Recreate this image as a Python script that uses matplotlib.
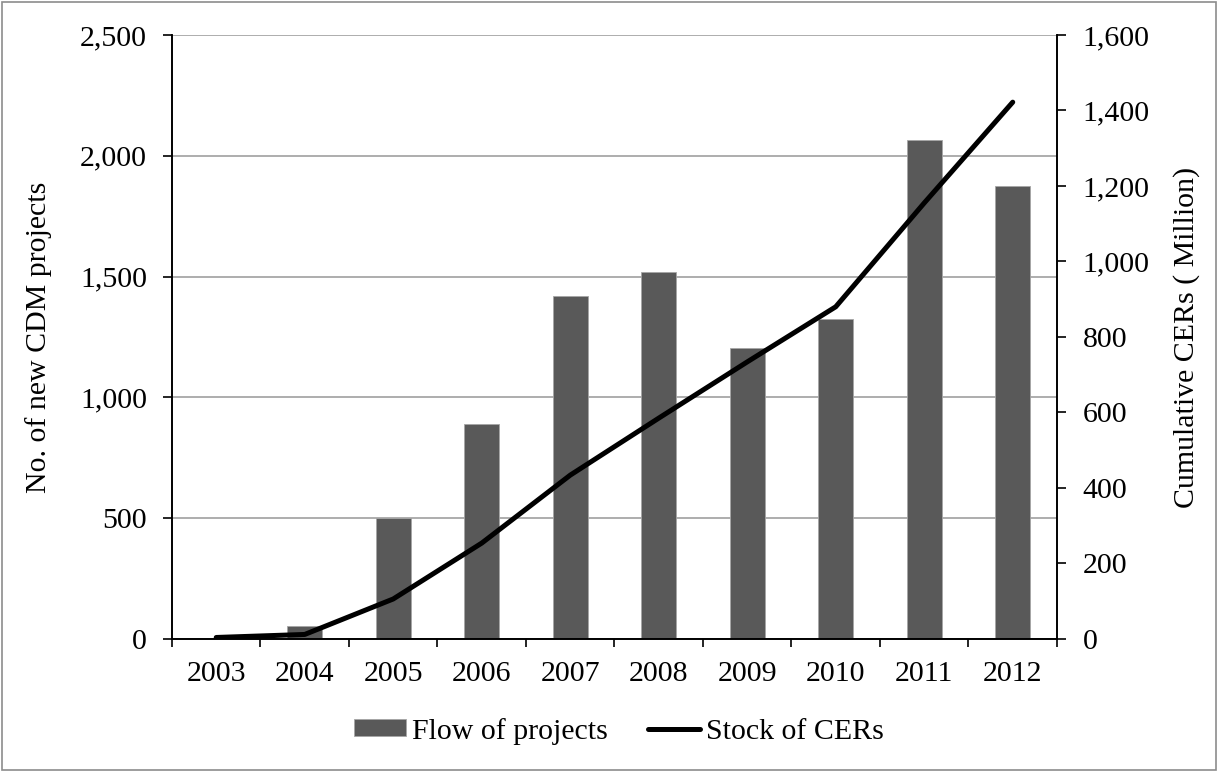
import matplotlib
matplotlib.use('Agg')
import matplotlib.pyplot as plt
from matplotlib.patches import Rectangle
from matplotlib.ticker import FuncFormatter, MultipleLocator
import numpy as np

plt.rcParams['font.family'] = ['Liberation Serif', 'DejaVu Serif']

# Data
years = ['2003', '2004', '2005', '2006', '2007', '2008', '2009', '2010', '2011', '2012']
projects = [0, 54, 501, 890, 1420, 1519, 1206, 1325, 2065, 1876]
cers = [4, 12, 106, 254, 434, 585, 734, 880, 1155, 1422]

fs = 21.5
fig = plt.figure(figsize=(12.18, 7.72), dpi=100)
ax = fig.add_axes([0.1412, 0.1723, 0.7266, 0.7824])
x = np.arange(len(years))

ax.bar(x, projects, width=0.395, color='#595959', edgecolor='#a6a6a6', linewidth=0.6,
       label='Flow of projects', zorder=2)
ax.set_ylim(0, 2500)
ax.set_xlim(-0.5, len(years) - 0.5)
ax.yaxis.set_major_locator(MultipleLocator(500))
ax.yaxis.set_major_formatter(FuncFormatter(lambda v, p: f'{v:,.0f}'))
ax.grid(axis='y', color='#a0a0a0', linewidth=1.2, zorder=0)
ax.set_axisbelow(True)
ax.set_xticks(x)
ax.set_xticklabels(years)
ax.set_xticks(np.arange(-0.5, len(years)), minor=True)
ax.tick_params(axis='x', which='major', length=0, pad=16, labelsize=fs)
ax.tick_params(axis='x', which='minor', length=6, width=1.2, direction='out')
ax.tick_params(axis='y', length=6.5, width=1.2, direction='out', labelsize=fs, pad=11.5)
ax.set_ylabel('No. of new CDM projects', fontsize=fs, labelpad=20)
ax.spines['top'].set_visible(False)

ax2 = ax.twinx()
ax2.plot(x, cers, color='black', linewidth=3.6, solid_capstyle='round',
         label='Stock of CERs', zorder=3)
ax2.set_ylim(0, 1600)
ax2.yaxis.set_major_locator(MultipleLocator(200))
ax2.yaxis.set_major_formatter(FuncFormatter(lambda v, p: f'{v:,.0f}'))
ax2.tick_params(axis='y', length=6.5, width=1.2, direction='out', labelsize=fs, pad=12)
ax2.set_ylabel('Cumulative CERs ( Million)', fontsize=fs, labelpad=17)
ax2.spines['top'].set_visible(False)
for a in (ax, ax2):
    for s in a.spines.values():
        s.set_linewidth(1.2)

h1, l1 = ax.get_legend_handles_labels()
h2, l2 = ax2.get_legend_handles_labels()
fig.legend(h1 + h2, l1 + l2, loc='center', bbox_to_anchor=(0.508, 0.053), ncol=2,
           frameon=False, fontsize=fs, handlelength=1.75, handleheight=0.5,
           handletextpad=0.2, columnspacing=1.34, borderpad=0)

fig.patches.append(Rectangle((0.002, 0.003), 0.996, 0.994, transform=fig.transFigure,
                             fill=False, edgecolor='#8c8c8c', linewidth=1.2))

fig.savefig('out.png', dpi=100)
